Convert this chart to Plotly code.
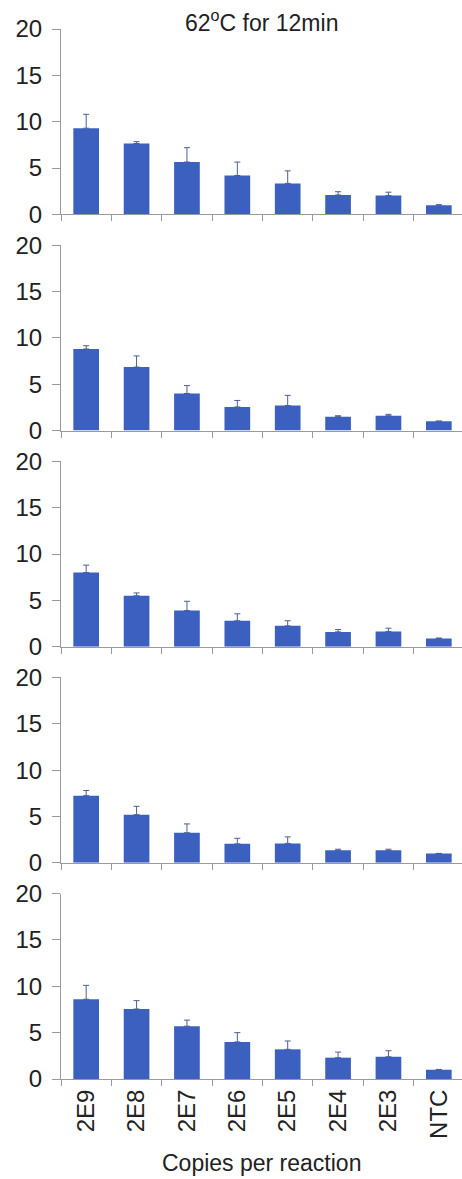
import plotly.graph_objects as go
from plotly.subplots import make_subplots

# Template amount relative to NTC, five replicate runs at 62 °C for 12 min
categories = ["2E9", "2E8", "2E7", "2E6", "2E5", "2E4", "2E3", "NTC"]

run1 = [9.3, 7.65, 5.65, 4.2, 3.35, 2.1, 2.05, 1.0]
err1 = [1.5, 0.2, 1.55, 1.45, 1.35, 0.35, 0.35, 0.05]

run2 = [8.8, 6.85, 4.0, 2.55, 2.7, 1.5, 1.6, 1.0]
err2 = [0.35, 1.2, 0.85, 0.7, 1.1, 0.1, 0.15, 0.03]

run3 = [8.0, 5.5, 3.9, 2.8, 2.25, 1.6, 1.65, 0.9]
err3 = [0.8, 0.3, 1.0, 0.75, 0.55, 0.25, 0.35, 0.03]

run4 = [7.25, 5.2, 3.25, 2.05, 2.1, 1.35, 1.35, 1.0]
err4 = [0.55, 0.9, 0.95, 0.6, 0.7, 0.12, 0.12, 0.02]

run5 = [8.6, 7.55, 5.7, 4.0, 3.2, 2.3, 2.4, 1.0]
err5 = [1.5, 0.9, 0.65, 1.0, 0.9, 0.6, 0.65, 0.03]

y_ticks = [0, 5, 10, 15, 20]

runs = [(run1, err1), (run2, err2), (run3, err3), (run4, err4), (run5, err5)]

W, H = 462, 1179
M_L, M_R, M_T, M_B = 61, 0, 29, 100
plot_h = H - M_T - M_B
gap_px = 30.7

BAR = "#3b60c0"
AXIS = "#9a9a9a"
TXT = "#222222"
FONT = "Liberation Sans, Arial, sans-serif"

fig = make_subplots(rows=5, cols=1, vertical_spacing=gap_px / plot_h)

for i, (vals, errs) in enumerate(runs, start=1):
    fig.add_trace(
        go.Bar(
            x=categories,
            y=vals,
            width=0.51,
            marker=dict(color=BAR, line=dict(width=0)),
            error_y=dict(
                type="data",
                symmetric=False,
                array=errs,
                arrayminus=[0] * len(errs),
                color="#4a5f96",
                thickness=1,
                width=3,
            ),
            showlegend=False,
        ),
        row=i,
        col=1,
    )
    fig.update_xaxes(
        type="category",
        range=[-0.5, 7.46],
        showline=True,
        linecolor=AXIS,
        linewidth=1,
        ticks="outside",
        tickson="boundaries",
        ticklen=6,
        tickcolor=AXIS,
        showgrid=False,
        zeroline=False,
        showticklabels=(i == 5),
        tickangle=-90,
        tickfont=dict(family=FONT, size=24, color=TXT),
        row=i,
        col=1,
    )
    fig.update_yaxes(
        range=[0, 20],
        tickvals=y_ticks,
        showline=True,
        linecolor=AXIS,
        linewidth=1,
        ticks="outside",
        ticklen=8,
        tickcolor=AXIS,
        showgrid=False,
        zeroline=False,
        tickfont=dict(family=FONT, size=24, color=TXT),
        ticklabelstandoff=5,
        row=i,
        col=1,
    )

fig.add_annotation(
    text="62<sup>o</sup>C for 12min",
    xref="paper", yref="paper",
    x=0.5, y=1, xanchor="center", yanchor="middle",
    yshift=8, showarrow=False,
    font=dict(family=FONT, size=23, color=TXT),
)
fig.add_annotation(
    text="Copies per reaction",
    xref="paper", yref="paper",
    x=0.5, y=0, xanchor="center", yanchor="middle",
    yshift=-84, showarrow=False,
    font=dict(family=FONT, size=23, color=TXT),
)

fig.update_layout(
    width=W,
    height=H,
    margin=dict(l=M_L, r=M_R, t=M_T, b=M_B, pad=0),
    plot_bgcolor="white",
    paper_bgcolor="white",
    bargap=0.49,
    font=dict(family=FONT, color=TXT),
)

fig.write_html("out.html")
